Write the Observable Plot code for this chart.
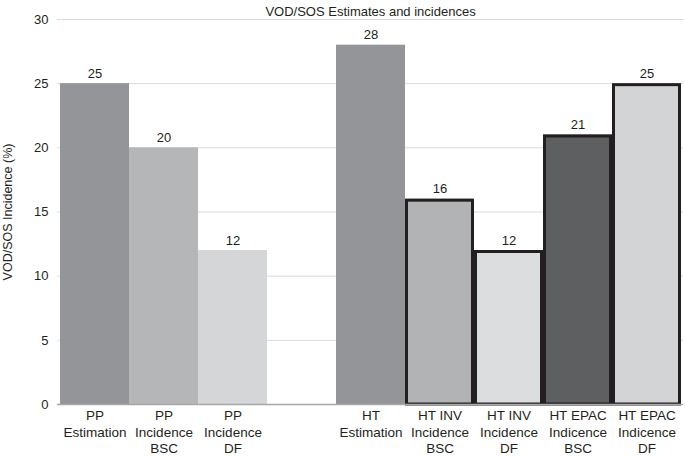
<!DOCTYPE html>
<html>
<head>
<meta charset="utf-8">
<script src="https://cdn.jsdelivr.net/npm/d3@7"></script>
<script src="https://cdn.jsdelivr.net/npm/@observablehq/plot@0.6"></script>
<style>
  html, body { margin: 0; padding: 0; background: #fff; }
  svg { display: block; }
</style>
</head>
<body>
<div id="chart"></div>
<script>
const categories = [
  "PP\nEstimation",
  "PP\nIncidence\nBSC",
  "PP\nIncidence\nDF",
  "HT\nEstimation",
  "HT INV\nIncidence\nBSC",
  "HT INV\nIncidence\nDF",
  "HT EPAC\nIndicence\nBSC",
  "HT EPAC\nIndicence\nDF"
];
const values = [25, 20, 12, 28, 16, 12, 21, 25];
const groups = ["PP", "PP", "PP", "HT", "HT INV", "HT INV", "HT EPAC", "HT EPAC"];
const yTicks = [0, 5, 10, 15, 20, 25, 30];
const gridTicks = [5, 10, 15, 20, 25, 30];
const spacer = " ";
const title = "VOD/SOS Estimates and incidences";
const yLabel = "VOD/SOS Incidence (%)";

const data = categories.map((c, i) => ({ category: c, value: values[i], group: groups[i] }));
const domain = [...categories.slice(0, 3), spacer, ...categories.slice(3)];
const barColors = ["#939598", "#b5b6b8", "#d5d6d8", "#939598", "#b2b3b5", "#dcdddf", "#5e5f61", "#d3d4d6"];
const outlined = data.filter(d => d.group === "HT INV" || d.group === "HT EPAC");

const chart = Plot.plot({
  width: 685,
  height: 457,
  marginTop: 19,
  marginLeft: 57,
  marginRight: 2,
  marginBottom: 53,
  style: { fontFamily: "Liberation Sans, Arial, sans-serif", fontSize: "13px", color: "#231f20", background: "#fff" },
  x: { domain, padding: 0, label: null },
  y: { domain: [0, 30], label: null },
  color: { type: "ordinal", domain: categories, range: barColors },
  marks: [
    Plot.ruleY(gridTicks, { stroke: "#d9d9d9", strokeWidth: 1 }),
    Plot.barY(data, { x: "category", y: "value", fill: "category", inset: 0 }),
    Plot.barY(outlined, { x: "category", y: "value", fill: "none", stroke: "#231f20", strokeWidth: 3, insetLeft: 1.5, insetRight: 1.5, insetTop: 1.5 }),
    Plot.ruleY([0], { stroke: "#a7a8aa", strokeWidth: 1.5 }),
    Plot.text(data, { x: "category", y: "value", text: d => String(d.value), dy: -10, fill: "#231f20", fontSize: 13 }),
    Plot.axisY({ ticks: yTicks, tickSize: 0, tickPadding: 9, fontSize: 13, label: null }),
    Plot.axisX({ ticks: categories, tickSize: 0, tickPadding: 4, fontSize: 13.5, lineHeight: 1.22, label: null }),
    Plot.text([title], { frameAnchor: "top", dy: -13, fontSize: 13, fill: "#231f20" }),
    Plot.text([yLabel], { frameAnchor: "left", textAnchor: "middle", dx: -50, rotate: -90, fontSize: 12.5, fill: "#231f20" })
  ]
});
document.getElementById("chart").appendChild(chart);
</script>
</body>
</html>
